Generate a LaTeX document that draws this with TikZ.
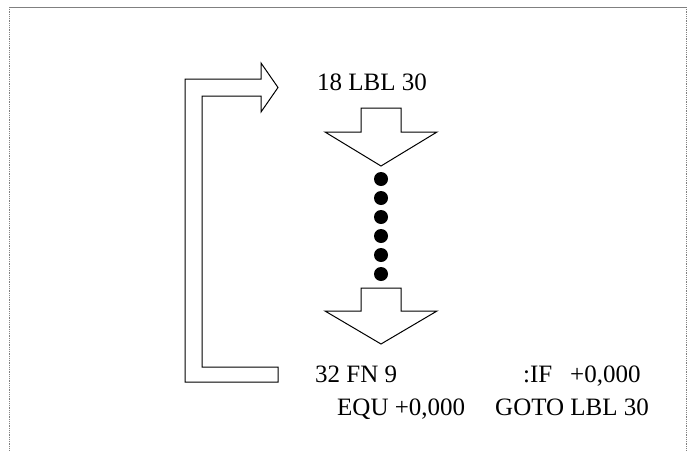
\documentclass[tikz,border=0pt]{standalone}
\usepackage{fontspec}
\setmainfont{Liberation Serif}
\usepackage{tikz}
\usetikzlibrary{positioning}

\begin{document}
\begin{tikzpicture}[
  x=1pt, y=-1pt,
  txt/.style={anchor=base west, inner sep=0pt, font=\fontsize{25}{30}\selectfont},
  fat/.style={draw=black, line width=1pt, fill=white, line join=miter},
  dot/.style={circle, fill=black, inner sep=0pt, minimum size=14pt},
  frame/.style={draw=gray, line width=0.8pt},
]
  \useasboundingbox (0,0) rectangle (693,450);
  % frame
  \draw[frame] (9,7) -- (686,7);
  \draw[frame, densely dotted] (9,7) -- (9,450);
  \draw[frame, densely dotted] (686,7) -- (686,450);

  % texts
  \node[txt] (lbl) at (317,90) {18 LBL 30};
  \node[txt] (fn) at (315,382) {32 FN 9};
  \node[txt] (ifk) at (523,382) {:IF};
  \node[txt] (ifv) at (570,382) {+0,000};
  \node[txt] (equ) at (337,415) {EQU +0,000};
  \node[txt] (goto) at (495,415) {GOTO LBL 30};

  % loop back arrow
  \draw[fat] (278,382) -- (185,382) -- (185,79) -- (261,79) -- (261,63)
    -- (278,87.5) -- (261,112) -- (261,96) -- (202,96) -- (202,367)
    -- (278,367) -- cycle;

  % down arrows
  \draw[fat] (361,108) -- (401,108) -- (401,132) -- (437,132) -- (381,166)
    -- (325,132) -- (361,132) -- cycle;
  \draw[fat] (361,288) -- (401,288) -- (401,311) -- (437,311) -- (381,344)
    -- (325,311) -- (361,311) -- cycle;

  % dots
  \foreach \i in {0,...,5}
    \node[dot] (d\i) at (381,179+19*\i) {};
\end{tikzpicture}
\end{document}
